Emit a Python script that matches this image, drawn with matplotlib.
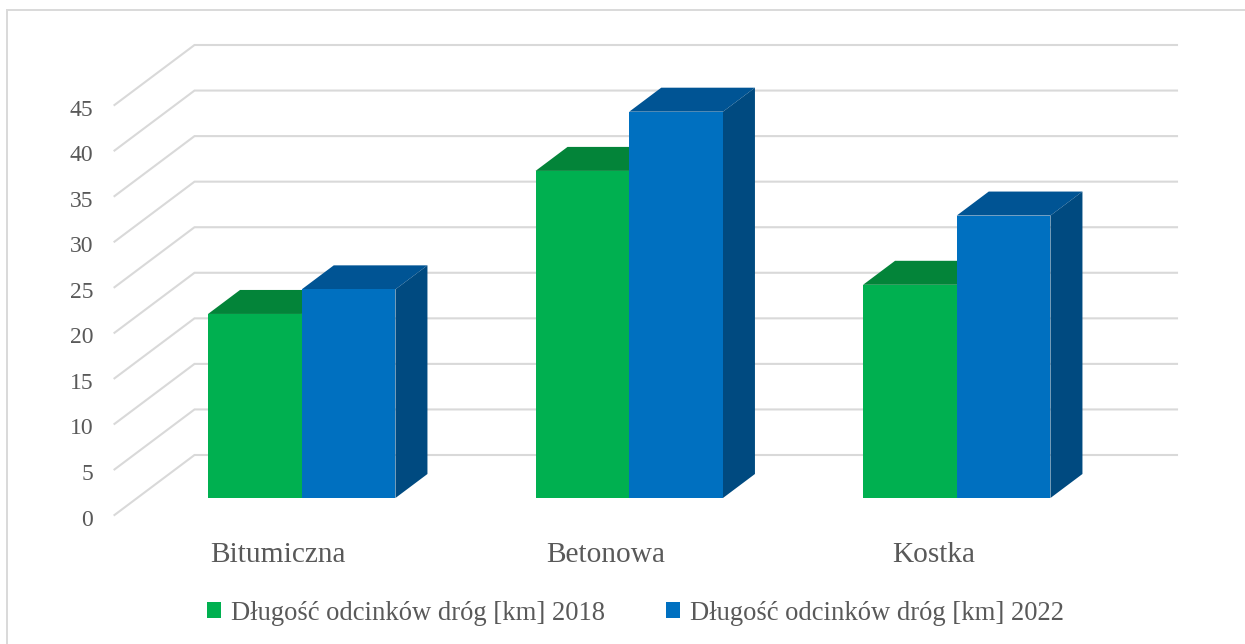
import matplotlib
matplotlib.use("Agg")
import matplotlib.pyplot as plt
from matplotlib.patches import Rectangle
from matplotlib.transforms import ScaledTranslation

categories = ["Bitumiczna", "Betonowa", "Kostka"]
series_names = ["Długość odcinków dróg [km] 2018", "Długość odcinków dróg [km] 2022"]
values_2018 = [20.2, 35.9, 23.4]
values_2022 = [22.9, 42.4, 31.0]
y_ticks = [0, 5, 10, 15, 20, 25, 30, 35, 40, 45]

W, H = 1245, 644
plt.rcParams["font.family"] = ["Liberation Serif", "DejaVu Serif"]
fig = plt.figure(figsize=(W / 100, H / 100), dpi=100, facecolor="white")

fig.add_artist(Rectangle((7 / W, -0.05), 1.1, 1 + 0.05 - 10 / H, transform=fig.transFigure,
                         fill=False, edgecolor="#d9d9d9", linewidth=1.4))

left, right, bottom, top = 114.5, 1097, 515, 105
ax = fig.add_axes([left / W, 1 - bottom / H, (right - left) / W, (bottom - top) / H])
ax.set_xlim(-0.5, 2.5)
ax.set_ylim(0, 45)
ax.patch.set_alpha(0)
for s in ax.spines.values():
    s.set_visible(False)

px_x = (right - left) / 3
px_y = (bottom - top) / 45

back_dx, back_dy = 80 / px_x, 60 / px_y
off_dx, off_dy = 23.5 / px_x, 17 / px_y
dep_dx, dep_dy = 32 / px_x, 24 / px_y
bar_w = 93.7 / px_x

for v in y_ticks:
    ax.plot([-0.5, -0.5 + back_dx, 2.5 + back_dx], [v, v + back_dy, v + back_dy],
            color="#d9d9d9", lw=1.5, clip_on=False, zorder=1, solid_joinstyle="miter")


def draw(vals, shift, col, top_col, side_col, label, z):
    xs = [i + shift + off_dx for i in range(len(vals))]
    bars = ax.bar(xs, vals, bar_w, bottom=off_dy, align="edge", color=col, label=label,
                  clip_on=False, zorder=z + 0.2)
    for x, v in zip(xs, vals):
        y = v + off_dy
        ax.fill([x, x + dep_dx, x + bar_w + dep_dx, x + bar_w],
                [y, y + dep_dy, y + dep_dy, y], color=top_col, lw=0, clip_on=False, zorder=z)
        ax.fill([x + bar_w, x + bar_w + dep_dx, x + bar_w + dep_dx, x + bar_w],
                [off_dy, off_dy + dep_dy, y + dep_dy, y], color=side_col, lw=0,
                clip_on=False, zorder=z)
    return bars


draw(values_2018, -bar_w, "#00B050", "#038439", "#03733A", series_names[0], 2)
draw(values_2022, 0, "#0070C0", "#005494", "#004A80", series_names[1], 3)

ax.set_yticks(y_ticks)
ax.set_xticks(range(len(categories)))
ax.set_xticklabels(categories)
ax.tick_params(axis="y", length=0, pad=15.3, labelsize=17, labelcolor="#595959")
ax.tick_params(axis="x", length=0, pad=19.5, labelsize=21.2, labelcolor="#595959")
shift_down = ScaledTranslation(0, -2.5 / 100, fig.dpi_scale_trans)
for lab in ax.get_yticklabels():
    lab.set_transform(lab.get_transform() + shift_down)

ax.legend(loc="center left", bbox_to_anchor=(207 / W, 1 - 613 / H), bbox_transform=fig.transFigure,
          ncols=2, frameon=False, fontsize=19.2, labelcolor="#595959",
          handlelength=0.525, handleheight=0.525, handletextpad=0.36, columnspacing=2.32,
          borderpad=0, borderaxespad=0)

fig.savefig("out.png", dpi=100, facecolor="white")
